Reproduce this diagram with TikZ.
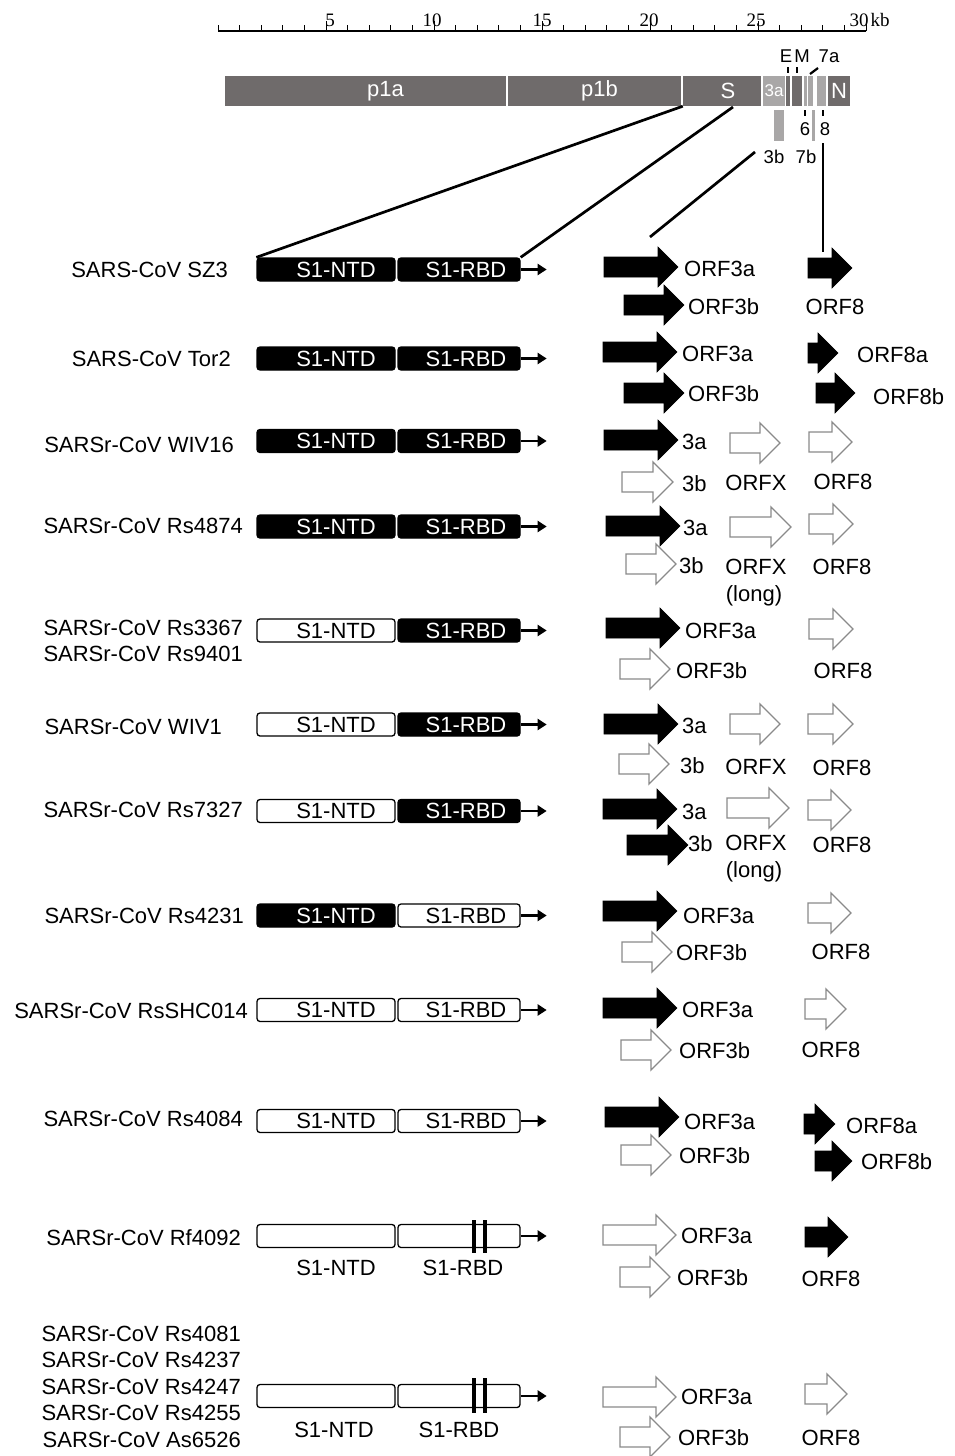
\documentclass[tikz,border=0pt]{standalone}
\usepackage{fontspec}
\setmainfont{Liberation Sans}
\newfontfamily\rulerfont{Liberation Serif}
\usetikzlibrary{arrows.meta}
\definecolor{gdark}{HTML}{6F6B6B}
\definecolor{glight}{HTML}{A9A7A7}
\definecolor{aline}{HTML}{8A8A8A}
\tikzset{
  lbltxt/.style={inner sep=0pt, font=\fontsize{22}{26}\selectfont},
  strain/.style={lbltxt, anchor=base east},
  orfl/.style={lbltxt, anchor=base west},
  orfc/.style={lbltxt, anchor=base},
  smalltxt/.style={inner sep=0pt, anchor=base, font=\fontsize{18.5}{20}\selectfont},
  bbox/.style={draw=black, fill=black, text=white, rounded corners=3pt, minimum height=23pt,
     inner sep=0pt, line width=1.3pt, font=\fontsize{22}{24}\selectfont},
  wbox/.style={bbox, fill=white, text=black},
  spk/.style={line width=2.6pt, -{Triangle[length=9pt,width=11pt]}},
  seg/.style={fill=gdark, minimum height=30pt, inner sep=0pt, text=white, font=\fontsize{22}{24}\selectfont},
  lseg/.style={seg, fill=glight},
  blkarr/.style={fill=black, draw=black, line width=0.6pt, line join=miter},
  opnarr/.style={fill=white, draw=aline, line width=1.3pt, line join=miter},
  conn/.style={line width=2.7pt},
  rlbl/.style={inner sep=0pt, anchor=base, font=\rulerfont\fontsize{19}{20}\selectfont}
}
% block arrow: #1 name, #2 style, #3 x start, #4 x end, #5 y centre
\newcommand\orfarrow[5]{%
  \coordinate (#1) at (#3,#5);
  \draw[#2] (#3,#5-10) -- (#4-20,#5-10) -- (#4-20,#5-20) -- (#4,#5) -- (#4-20,#5+20)
    -- (#4-20,#5+10) -- (#3,#5+10) -- cycle;}
% spike row: #1 name, #2 y, #3 NTD style, #4 RBD style, #5 NTD text, #6 RBD text
\newcommand\spikerow[6]{%
  \node[#3, minimum width=138pt] (#1n) at (326,#2) {#5};
  \node[#4, minimum width=122pt] (#1r) at (459,#2) {#6};
  \draw[spk] (#1r.east) -- ++(26,0);}
\newcommand\NTD{\hspace*{20pt}\raisebox{-1pt}{S1-NTD}}
\newcommand\RBD{\hspace*{14pt}\raisebox{-1pt}{S1-RBD}}
\begin{document}
\begin{tikzpicture}[x=1pt,y=-1pt]
\useasboundingbox (0,0) rectangle (954,1456);
% ---------- ruler ----------
\draw[line width=1.4pt] (218,31) -- (866,31);
\foreach \k in {0,...,30} { \draw[line width=1pt] (218+\k*21.6,31) -- ++(0,-6); }
\foreach \k in {5,10,15,20,25,30} { \draw[line width=1pt] (218+\k*21.6,31) -- ++(0,-10); }
\node[rlbl] (r5) at (330,26) {5};
\node[rlbl] (r10) at (432,26) {10};
\node[rlbl] (r15) at (542,26) {15};
\node[rlbl] (r20) at (649,26) {20};
\node[rlbl] (r25) at (756,26) {25};
\node[rlbl] (r30) at (859,26) {30};
\node[rlbl] (rkb) at (880,26) {kb};
% ---------- genome ----------
\node[seg, minimum width=281pt] (p1a) at (365.5,91) {\hspace*{40pt}\raisebox{-1pt}{p1a}};
\node[seg, minimum width=173pt] (p1b) at (594.5,91) {\hspace*{10pt}\raisebox{-1pt}{p1b}};
\node[seg, minimum width=78pt] (S) at (722,91) {\hspace*{12pt}\raisebox{-1pt}{S}};
\node[lseg, minimum width=22pt, font=\fontsize{17}{18}\selectfont] (g3a) at (774,91) {3a};
\node[seg, minimum width=4pt] (gE) at (788,91) {};
\node[seg, minimum width=10pt] (gM) at (797,91) {};
\node[lseg, minimum width=3pt] (g6) at (805,91) {};
\node[lseg, minimum width=5pt] (g7a) at (810.5,91) {};
\node[lseg, minimum width=9pt] (g8) at (821.5,91) {};
\node[seg, minimum width=22pt] (gN) at (839,91) {\raisebox{-1pt}{N}};
\node[lseg, minimum width=10pt, minimum height=31pt] (g3b) at (779,125.5) {};
\node[lseg, minimum width=3pt, minimum height=31pt] (g7b) at (813.5,125.5) {};
\draw[line width=2.2pt] (788,67) -- (788,73);
\draw[line width=2.2pt] (797,67) -- (797,73);
\draw[line width=2.2pt] (810,74) -- (818,68);
\draw[line width=2.2pt] (805,110) -- (805,116);
\draw[line width=2.2pt] (823,110) -- (823,116);
\node[smalltxt] (lE) at (786,62) {E};
\node[smalltxt] (lM) at (802,62) {M};
\node[smalltxt] (l7a) at (829,62) {7a};
\node[smalltxt] (l6) at (805,135) {6};
\node[smalltxt] (l8) at (825,135) {8};
\node[smalltxt] (l3b) at (774,163) {3b};
\node[smalltxt] (l7b) at (806,163) {7b};
% ---------- rows ----------
\spikerow{sz3}{269.5}{bbox}{bbox}{\NTD}{\RBD}
\spikerow{tor}{358.5}{bbox}{bbox}{\NTD}{\RBD}
\spikerow{wvs}{441}{bbox}{bbox}{\NTD}{\RBD}
\spikerow{rsa}{526.5}{bbox}{bbox}{\NTD}{\RBD}
\spikerow{rsb}{630.5}{wbox}{bbox}{\NTD}{\RBD}
\spikerow{wvo}{724.5}{wbox}{bbox}{\NTD}{\RBD}
\spikerow{rsc}{811}{wbox}{bbox}{\NTD}{\RBD}
\spikerow{rsd}{915.5}{bbox}{wbox}{\NTD}{\RBD}
\spikerow{shc}{1010}{wbox}{wbox}{\NTD}{\RBD}
\spikerow{rse}{1121}{wbox}{wbox}{\NTD}{\RBD}
\spikerow{rff}{1236}{wbox}{wbox}{}{}
\spikerow{grp}{1396}{wbox}{wbox}{}{}
\fill (472,1220) rectangle (476,1253);
\fill (483,1220) rectangle (487,1253);
\fill (472,1378) rectangle (476,1413);
\fill (483,1378) rectangle (487,1413);
\node[orfc] (rffnt) at (336,1275) {S1-NTD};
\node[orfc] (rffrt) at (463,1275) {S1-RBD};
\node[orfc] (grpnt) at (334,1437) {S1-NTD};
\node[orfc] (grprt) at (459,1437) {S1-RBD};
% strain names
\node[strain] (nsz3) at (228,277) {SARS-CoV SZ3};
\node[strain] (ntor) at (231,366) {SARS-CoV Tor2};
\node[strain] (nwvs) at (234,452) {SARSr-CoV WIV16};
\node[strain] (nrsa) at (243,533) {SARSr-CoV Rs4874};
\node[strain] (nrsb) at (243,635) {SARSr-CoV Rs3367};
\node[strain] (nrsb2) at (243,661) {SARSr-CoV Rs9401};
\node[strain] (nwvo) at (222,734) {SARSr-CoV WIV1};
\node[strain] (nrsc) at (243,817) {SARSr-CoV Rs7327};
\node[strain] (nrsd) at (244,923) {SARSr-CoV Rs4231};
\node[strain] (nshc) at (248,1018) {SARSr-CoV RsSHC014};
\node[strain] (nrse) at (243,1126) {SARSr-CoV Rs4084};
\node[strain] (nrff) at (241,1245) {SARSr-CoV Rf4092};
\node[strain] (ng1) at (241,1341) {SARSr-CoV Rs4081};
\node[strain] (ng2) at (241,1367) {SARSr-CoV Rs4237};
\node[strain] (ng3) at (241,1394) {SARSr-CoV Rs4247};
\node[strain] (ng4) at (241,1420) {SARSr-CoV Rs4255};
\node[strain] (ng5) at (241,1447) {SARSr-CoV As6526};
% ---------- ORF arrows ----------
% row 1
\orfarrow{a1b}{blkarr}{624}{684}{305}
\orfarrow{a1a}{blkarr}{604}{678}{267}
\orfarrow{a1e}{blkarr}{808}{852}{268}
\node[orfl] (t1a) at (684,276) {ORF3a};
\node[orfl] (t1b) at (688,314) {ORF3b};
\node[orfc] (t1e) at (835,314) {ORF8};
% row 2
\orfarrow{a2b}{blkarr}{624}{684}{393}
\orfarrow{a2a}{blkarr}{603}{677}{352}
\orfarrow{a2e}{blkarr}{808}{838}{353}
\orfarrow{a2f}{blkarr}{816}{855}{393}
\node[orfl] (t2a) at (682,361) {ORF3a};
\node[orfl] (t2b) at (688,401) {ORF3b};
\node[orfl] (t2e) at (857,362) {ORF8a};
\node[orfl] (t2f) at (873,404) {ORF8b};
% row 3
\orfarrow{a3b}{opnarr}{622}{673}{482}
\orfarrow{a3a}{blkarr}{604}{678}{440}
\orfarrow{a3x}{opnarr}{730}{780}{443}
\orfarrow{a3e}{opnarr}{809}{852}{442}
\node[orfl] (t3a) at (682,449) {3a};
\node[orfl] (t3b) at (682,491) {3b};
\node[orfc] (t3x) at (756,490) {ORFX};
\node[orfc] (t3e) at (843,489) {ORF8};
% row 4
\orfarrow{a4b}{opnarr}{626}{676}{564}
\orfarrow{a4a}{blkarr}{606}{680}{526}
\orfarrow{a4x}{opnarr}{730}{791}{527}
\orfarrow{a4e}{opnarr}{809}{853}{524}
\node[orfl] (t4a) at (683,535) {3a};
\node[orfl] (t4b) at (679,573) {3b};
\node[orfc] (t4x) at (756,574) {ORFX};
\node[orfc] (t4l) at (754,601) {(long)};
\node[orfc] (t4e) at (842,574) {ORF8};
% row 5
\orfarrow{a5b}{opnarr}{620}{670}{669}
\orfarrow{a5a}{blkarr}{606}{680}{628}
\orfarrow{a5e}{opnarr}{809}{853}{629}
\node[orfl] (t5a) at (685,638) {ORF3a};
\node[orfl] (t5b) at (676,678) {ORF3b};
\node[orfc] (t5e) at (843,678) {ORF8};
% row 6
\orfarrow{a6b}{opnarr}{619}{669}{764}
\orfarrow{a6a}{blkarr}{604}{678}{724}
\orfarrow{a6x}{opnarr}{730}{780}{724}
\orfarrow{a6e}{opnarr}{808}{853}{724}
\node[orfl] (t6a) at (682,733) {3a};
\node[orfl] (t6b) at (680,773) {3b};
\node[orfc] (t6x) at (756,774) {ORFX};
\node[orfc] (t6e) at (842,775) {ORF8};
% row 7
\orfarrow{a7a}{blkarr}{603}{677}{809}
\orfarrow{a7b}{blkarr}{627}{688}{845}
\orfarrow{a7x}{opnarr}{727}{789}{808}
\orfarrow{a7e}{opnarr}{808}{851}{810}
\node[orfl] (t7a) at (682,819) {3a};
\node[orfl] (t7b) at (688,851) {3b};
\node[orfc] (t7x) at (756,850) {ORFX};
\node[orfc] (t7l) at (754,877) {(long)};
\node[orfc] (t7e) at (842,852) {ORF8};
% row 8
\orfarrow{a8b}{opnarr}{622}{672}{952}
\orfarrow{a8a}{blkarr}{603}{677}{911}
\orfarrow{a8e}{opnarr}{808}{851}{913}
\node[orfl] (t8a) at (683,923) {ORF3a};
\node[orfl] (t8b) at (676,960) {ORF3b};
\node[orfc] (t8e) at (841,959) {ORF8};
% row 9
\orfarrow{a9b}{opnarr}{621}{671}{1050}
\orfarrow{a9a}{blkarr}{603}{677}{1008}
\orfarrow{a9e}{opnarr}{805}{846}{1009}
\node[orfl] (t9a) at (682,1017) {ORF3a};
\node[orfl] (t9b) at (679,1058) {ORF3b};
\node[orfc] (t9e) at (831,1057) {ORF8};
% row 10
\orfarrow{aAb}{opnarr}{621}{671}{1155}
\orfarrow{aAa}{blkarr}{605}{679}{1117}
\orfarrow{aAe}{blkarr}{804}{835}{1124}
\orfarrow{aAf}{blkarr}{815}{852}{1161}
\node[orfl] (tAa) at (684,1129) {ORF3a};
\node[orfl] (tAb) at (679,1163) {ORF3b};
\node[orfl] (tAe) at (846,1133) {ORF8a};
\node[orfl] (tAf) at (861,1169) {ORF8b};
% row 11
\orfarrow{aBb}{opnarr}{620}{670}{1277}
\orfarrow{aBa}{opnarr}{603}{676}{1235}
\orfarrow{aBe}{blkarr}{805}{848}{1237}
\node[orfl] (tBa) at (681,1243) {ORF3a};
\node[orfl] (tBb) at (677,1285) {ORF3b};
\node[orfc] (tBe) at (831,1286) {ORF8};
% row 12
\orfarrow{aCb}{opnarr}{620}{670}{1437}
\orfarrow{aCa}{opnarr}{603}{676}{1397}
\orfarrow{aCe}{opnarr}{805}{847}{1394}
\node[orfl] (tCa) at (681,1404) {ORF3a};
\node[orfl] (tCb) at (678,1445) {ORF3b};
\node[orfc] (tCe) at (831,1445) {ORF8};
% ---------- connectors ----------
\coordinate (Sb) at (733,107);
\coordinate (c3b) at (755,152);
\coordinate (c3a) at (650,237);
\coordinate (c8top) at (823,143);
\coordinate (c8bot) at (823,252);
\draw[conn] (S.south west) -- (sz3n.north west);
\draw[conn] (Sb) -- (sz3r.north east);
\draw[conn] (c3b) -- (c3a);
\draw[conn] (c8top) -- (c8bot);
\end{tikzpicture}
\end{document}
